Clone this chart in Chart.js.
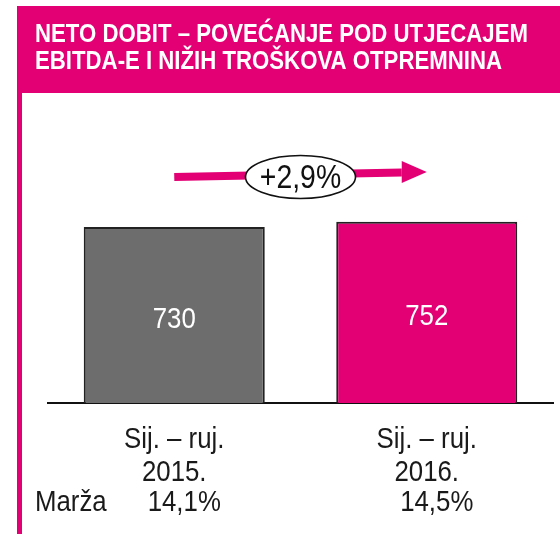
<!DOCTYPE html>
<html>
<head>
<meta charset="utf-8">
<style>
  html, body { margin: 0; padding: 0; background: #ffffff; }
  #wrap { width: 560px; height: 534px; position: relative; }
</style>
<script src="https://cdn.jsdelivr.net/npm/chart.js@4.4.1/dist/chart.umd.min.js"></script>
</head>
<body>
<div id="wrap"><canvas id="c" width="560" height="534"></canvas></div>
<script>
// ---- data ----
const titleLines = ["NETO DOBIT – POVEĆANJE POD UTJECAJEM", "EBITDA-E I NIŽIH TROŠKOVA OTPREMNINA"];
const periods = ["Sij. – ruj.", "Sij. – ruj."];
const years = ["2015.", "2016."];
const netProfit = [730, 752];
const margins = ["14,1%", "14,5%"];
const marginLabel = "Marža";
const growthLabel = "+2,9%";

const MAGENTA = "#e20074";
const GREY = "#6d6d6d";
const FONT = '"Liberation Sans", Arial, sans-serif';
const NARROW = 0.86;

// draw text horizontally condensed (emulates a narrow typeface)
function narrowText(ctx, text, x, y, font, align, sx) {
  ctx.save();
  ctx.font = font;
  ctx.textAlign = align;
  ctx.translate(x, y);
  ctx.scale(sx, 1);
  ctx.fillText(text, 0, 0);
  ctx.restore();
}

const decor = {
  id: 'decor',
  beforeDraw(chart) {
    const ctx = chart.ctx;
    ctx.save();
    ctx.fillStyle = "#fff";
    ctx.fillRect(0, 0, chart.width, chart.height);
    // header
    ctx.fillStyle = MAGENTA;
    ctx.fillRect(17, 6, chart.width - 17, 87);
    // left border
    ctx.fillRect(17, 93, 5, chart.height - 93);
    // title
    ctx.fillStyle = "#fff";
    ctx.textBaseline = 'alphabetic';
    const tf = 'bold 26px ' + FONT;
    ctx.font = tf;
    const w1 = ctx.measureText(titleLines[0]).width;
    const sx = 493 / w1;
    narrowText(ctx, titleLines[0], 35, 42, tf, 'left', sx);
    narrowText(ctx, titleLines[1], 35, 69, tf, 'left', sx);
    ctx.restore();
  },
  afterDatasetsDraw(chart) {
    const ctx = chart.ctx;
    const xs = chart.scales.x;
    const ca = chart.chartArea;
    const meta = chart.getDatasetMeta(0);
    ctx.save();
    ctx.textBaseline = 'alphabetic';
    // value labels inside bars
    ctx.fillStyle = "#fff";
    meta.data.forEach((bar, i) => {
      const mid = (bar.y + bar.base) / 2;
      narrowText(ctx, String(netProfit[i]), bar.x, mid + 13, '30px ' + FONT, 'center', NARROW);
    });
    // arrow
    const x0 = xs.getPixelForValue(0);
    const x1 = xs.getPixelForValue(1);
    const yA = ca.top + 15, yB = ca.top + 10;
    const headLen = 25, headHalf = 11;
    ctx.strokeStyle = MAGENTA;
    ctx.fillStyle = MAGENTA;
    ctx.lineWidth = 8;
    ctx.beginPath();
    ctx.moveTo(x0, yA);
    ctx.lineTo(x1 - headLen, yB + 0.5);
    ctx.stroke();
    ctx.beginPath();
    ctx.moveTo(x1, yB);
    ctx.lineTo(x1 - headLen, yB - headHalf);
    ctx.lineTo(x1 - headLen, yB + headHalf);
    ctx.closePath();
    ctx.fill();
    // ellipse with growth label
    const ex = (x0 + x1) / 2, ey = ca.top + 15;
    ctx.beginPath();
    ctx.ellipse(ex, ey, 55, 21.5, 0, 0, Math.PI * 2);
    ctx.fillStyle = "#fff";
    ctx.fill();
    ctx.lineWidth = 1.6;
    ctx.strokeStyle = "#111";
    ctx.stroke();
    ctx.fillStyle = "#111";
    narrowText(ctx, growthLabel, ex, ey + 11, '33px ' + FONT, 'center', NARROW);
    // category labels
    ctx.fillStyle = "#1a1a1a";
    const lf = '30px ' + FONT;
    periods.forEach((p, i) => {
      const x = xs.getPixelForValue(i);
      narrowText(ctx, p, x, ca.bottom + 45, lf, 'center', NARROW);
      narrowText(ctx, years[i], x, ca.bottom + 78, lf, 'center', NARROW);
      narrowText(ctx, margins[i], x + 10, ca.bottom + 108, lf, 'center', NARROW);
    });
    narrowText(ctx, marginLabel, 35, ca.bottom + 108, lf, 'left', NARROW);
    ctx.restore();
  }
};

new Chart(document.getElementById('c'), {
  type: 'bar',
  data: {
    labels: years,
    datasets: [{
      data: netProfit,
      backgroundColor: [GREY, MAGENTA],
      borderColor: "#222",
      borderWidth: 2,
      borderSkipped: 'bottom',
      barPercentage: 0.717,
      categoryPercentage: 1.0
    }]
  },
  options: {
    responsive: false,
    animation: false,
    devicePixelRatio: 1,
    layout: { padding: { left: 48, right: 7, top: 162, bottom: 131 } },
    plugins: { legend: { display: false }, tooltip: { enabled: false }, title: { display: false } },
    scales: {
      x: {
        display: true,
        grid: { display: false, drawTicks: false },
        ticks: { display: false },
        border: { display: true, color: "#111", width: 2 }
      },
      y: {
        display: false,
        min: 0,
        max: 1000
      }
    }
  },
  plugins: [decor]
});
</script>
</body>
</html>
